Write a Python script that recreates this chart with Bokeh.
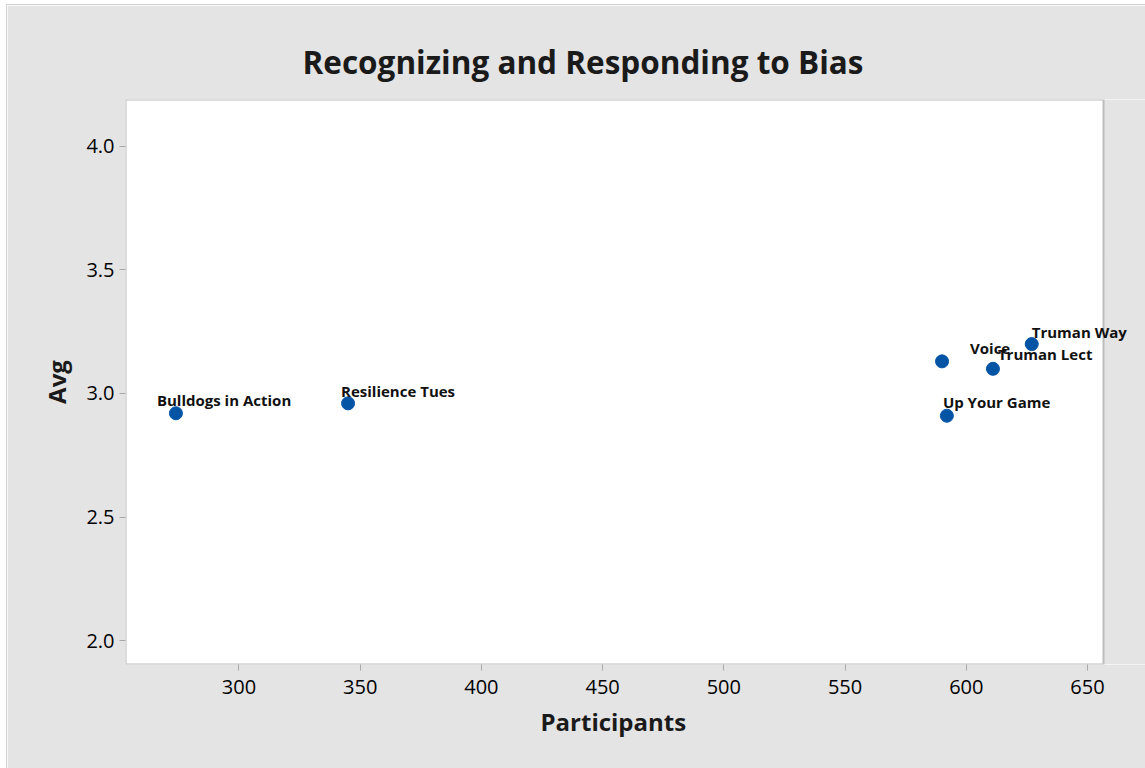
from bokeh.plotting import figure
from bokeh.models import ColumnDataSource, Range1d, FixedTicker, Title, LabelSet, BoxAnnotation
from bokeh.core.properties import value
from bokeh.embed import file_html
from bokeh.resources import INLINE

# ---- data ----
names = ["Bulldogs in Action", "Resilience Tues", "Voice", "Up Your Game", "Truman Lect", "Truman Way"]
participants = [274, 345, 590, 592, 611, 627]
avg = [2.92, 2.96, 3.13, 2.91, 3.10, 3.20]
x_ticks = [300, 350, 400, 450, 500, 550, 600, 650]
y_ticks = [2.0, 2.5, 3.0, 3.5, 4.0]
y_tick_labels = {2.0: "2.0", 2.5: "2.5", 3.0: "3.0", 3.5: "3.5", 4.0: "4.0"}

# axis extents (layout)
X_MIN, X_MAX = 253.2, 656.6
Y_MIN, Y_MAX = 1.903, 4.19

# label placement (pixels, layout only)
label_dx = [-19, -7, 28, -4, 5, 0]
label_rise = [7, 6, 7, 8, 9, 6]

FONT = "Open Sans"
BG = "#e4e4e4"

# The frame is widened to the right so point labels can overflow the plot box;
# the real plot box is drawn with annotations.
PLOT_W = 978
EXTRA_W = 42
x_end = X_MAX + EXTRA_W * (X_MAX - X_MIN) / PLOT_W

p = figure(
    width=1138, height=763,
    frame_width=PLOT_W + EXTRA_W, frame_height=565,
    min_border_left=118, min_border_right=0, min_border_top=94, min_border_bottom=104,
    x_range=Range1d(X_MIN, x_end), y_range=Range1d(Y_MIN, Y_MAX),
    output_backend="svg", toolbar_location=None,
    background_fill_color="white", border_fill_color=BG,
    outline_line_color=None,
)
p.margin = (5, 0, 0, 7)
p.styles = {"outline": "1px solid #d2d2d2"}

p.add_layout(BoxAnnotation(left=X_MAX, right=x_end + 20, fill_color=BG, fill_alpha=1.0,
                           line_alpha=0, level="underlay"))
p.add_layout(BoxAnnotation(left=X_MIN, right=X_MAX, bottom=Y_MIN, top=Y_MAX,
                           fill_alpha=0, line_color="#bdbdbd", line_alpha=1.0,
                           line_width=2, level="underlay"))

p.title = Title(text="Recognizing and Responding to Bias", align="left",
                text_font=FONT, text_font_size="31.5px", text_font_style="bold",
                text_color="#1a1a1a", offset=177, standoff=33)

p.grid.visible = False

for ax in (p.xaxis[0], p.yaxis[0]):
    ax.axis_line_color = None
    ax.major_tick_line_color = "#a8a8a8"
    ax.major_tick_out = 6
    ax.major_tick_in = 0
    ax.minor_tick_line_color = None
    ax.major_label_text_font = FONT
    ax.major_label_text_font_size = "20px"
    ax.major_label_text_color = "black"
    ax.axis_label_text_font = FONT
    ax.axis_label_text_font_size = "24px"
    ax.axis_label_text_font_style = "bold"
    ax.axis_label_text_color = "#1a1a1a"

p.xaxis.ticker = FixedTicker(ticks=x_ticks)
p.yaxis.ticker = FixedTicker(ticks=y_ticks)
p.yaxis.major_label_overrides = y_tick_labels
p.yaxis.axis_label = "Avg"
p.xaxis.major_label_standoff = 9
p.yaxis.major_label_standoff = 5
p.yaxis.axis_label_standoff = 10

# x-axis title placed as a below-panel title so it centres on the visible plot box
p.add_layout(Title(text="Participants", align="left", text_font=FONT,
                   text_font_size="24px", text_font_style="bold", text_color="#1a1a1a",
                   offset=415, standoff=12), "below")

src = ColumnDataSource(dict(x=participants, y=avg, name=names, dx=label_dx, dy=label_rise))

p.scatter("x", "y", source=src, size=13, fill_color="#0454a6", line_color="#0454a6")
labels = LabelSet(x="x", y="y", text="name", source=src, x_offset="dx", y_offset="dy",
                  text_font=value(FONT), text_font_size=value("15px"), text_font_style=value("bold"),
                  text_color=value("#111111"), text_align=value("left"),
                  text_baseline=value("alphabetic"))
p.add_layout(labels)

open("out.html", "w").write(file_html(p, INLINE))
